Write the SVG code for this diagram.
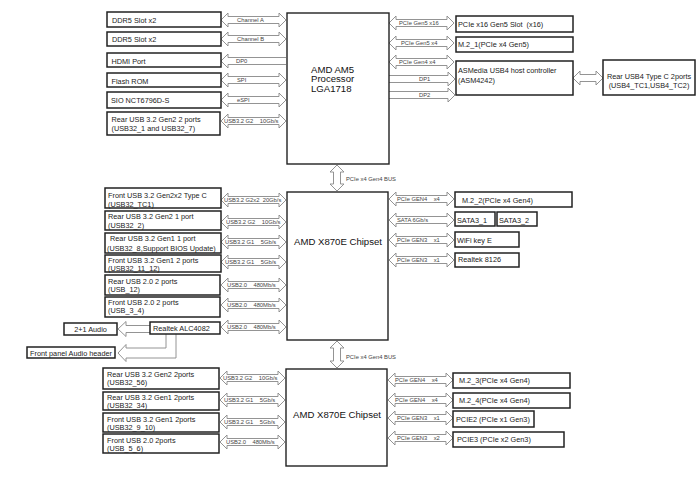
<svg xmlns="http://www.w3.org/2000/svg" width="700" height="502" viewBox="0 0 700 502">
<defs>
<style>
.box{fill:#fff;stroke:#222;stroke-width:1.5}
.big{fill:#fff;stroke:#222;stroke-width:1.4}
.arr{fill:#fff;stroke:#888;stroke-width:0.9}
.t{font-family:"Liberation Sans",Arial,sans-serif;font-size:7.3px;fill:#222;white-space:pre}
.c{font-family:"Liberation Sans",Arial,sans-serif;font-size:9.6px;fill:#111}
.l{font-family:"Liberation Sans",Arial,sans-serif;font-size:5.8px;fill:#444;white-space:pre}
</style>
<path id="da" d="M0,0 L7,-7 L7,-3.5 L58,-3.5 L58,-7 L65,0 L58,7 L58,3.5 L7,3.5 L7,7 Z"/>
</defs>
<rect width="700" height="502" fill="#fff"/>

<g id="connectors">
<use href="#da" class="arr" x="221" y="20"/>
<use href="#da" class="arr" x="221" y="39"/>
<path class="arr" d="M286,57.5 L228,57.5 L228,54 L221,61 L228,68 L228,64.5 L286,64.5"/>
<use href="#da" class="arr" x="221" y="80"/>
<use href="#da" class="arr" x="221" y="100"/>
<use href="#da" class="arr" x="221" y="121"/>
<use href="#da" class="arr" x="389" y="23"/>
<use href="#da" class="arr" x="389" y="43"/>
<use href="#da" class="arr" x="389" y="62"/>
<path class="arr" d="M389,75.5 L448,75.5 L448,72 L455,79 L448,86 L448,82.5 L389,82.5"/>
<path class="arr" d="M389,91.5 L448,91.5 L448,88 L455,95 L448,102 L448,98.5 L389,98.5"/>
<path class="arr" d="M573,78 L580,71 L580,74.5 L596,74.5 L596,71 L603,78 L596,85 L596,81.5 L580,81.5 L580,85 Z"/>
<path class="arr" d="M337,165 L344,172 L340.5,172 L340.5,184 L344,184 L337,191 L330,184 L333.5,184 L333.5,172 L330,172 Z"/>
<path class="arr" d="M337,341 L344,348 L340.5,348 L340.5,361 L344,361 L337,368 L330,361 L333.5,361 L333.5,348 L330,348 Z"/>
<use href="#da" class="arr" x="221" y="200"/>
<use href="#da" class="arr" x="221" y="222"/>
<use href="#da" class="arr" x="221" y="242"/>
<use href="#da" class="arr" x="221" y="262"/>
<use href="#da" class="arr" x="221" y="285"/>
<use href="#da" class="arr" x="221" y="305"/>
<use href="#da" class="arr" x="221" y="327"/>
<path class="arr" d="M150,325.5 L126,325.5 L126,321.5 L118,329 L126,336.5 L126,332.5 L150,332.5"/>
<path class="arr" d="M166,334 L166,348 L126,348 L126,344.5 L118,353 L126,361.5 L126,358 L176,358 L176,334"/>
<use href="#da" class="arr" x="389" y="199"/>
<use href="#da" class="arr" x="389" y="220"/>
<use href="#da" class="arr" x="389" y="240"/>
<use href="#da" class="arr" x="389" y="260"/>
<use href="#da" class="arr" x="220" y="378"/>
<use href="#da" class="arr" x="220" y="400"/>
<use href="#da" class="arr" x="220" y="422"/>
<use href="#da" class="arr" x="220" y="442"/>
<use href="#da" class="arr" x="388" y="380"/>
<use href="#da" class="arr" x="388" y="400"/>
<use href="#da" class="arr" x="388" y="418"/>
<use href="#da" class="arr" x="388" y="438"/>

<text class="l" x="237" y="22">Channel A</text>
<text class="l" x="237" y="41">Channel B</text>
<text class="l" x="236" y="63">DP0</text>
<text class="l" x="237" y="82">SPI</text>
<text class="l" x="237" y="102">eSPI</text>
<text class="l" x="224" y="123">USB3.2 G2    10Gb/s</text>
<text class="l" x="399" y="25">PCIe Gen5 x16</text>
<text class="l" x="401" y="45">PCIe Gen5 x4</text>
<text class="l" x="399" y="64">PCIe Gen4 x4</text>
<text class="l" x="419" y="81">DP1</text>
<text class="l" x="419" y="97">DP2</text>
<text class="l" x="346" y="181">PCIe x4 Gen4 BUS</text>
<text class="l" x="346" y="359">PCIe x4 Gen4 BUS</text>
<text class="l" x="224" y="202">USB3.2 G2x2  20Gb/s</text>
<text class="l" x="226" y="224">USB3.2 G2    10Gb/s</text>
<text class="l" x="225" y="244">USB3.2 G1    5Gb/s</text>
<text class="l" x="225" y="264">USB3.2 G1    5Gb/s</text>
<text class="l" x="227" y="287">USB2.0    480Mb/s</text>
<text class="l" x="227" y="307">USB2.0    480Mb/s</text>
<text class="l" x="227" y="329">USB2.0    480Mb/s</text>
<text class="l" x="397" y="201">PCIe GEN4    x4</text>
<text class="l" x="397" y="222">SATA 6Gb/s</text>
<text class="l" x="397" y="242">PCIe GEN3    x1</text>
<text class="l" x="397" y="262">PCIe GEN3    x1</text>
<text class="l" x="223" y="380">USB3.2 G2    10Gb/s</text>
<text class="l" x="224" y="402">USB3.2 G1    5Gb/s</text>
<text class="l" x="224" y="424">USB3.2 G1    5Gb/s</text>
<text class="l" x="226" y="444">USB2.0    480Mb/s</text>
<text class="l" x="395" y="382">PCIe GEN4    x4</text>
<text class="l" x="395" y="402">PCIe GEN4    x4</text>
<text class="l" x="397" y="420">PCIe GEN3    x1</text>
<text class="l" x="397" y="440">PCIe GEN3    x2</text>
</g>

<g id="cpu"><rect class="big" x="287" y="13" width="102" height="151"/>
<text class="c" x="311" y="72.5">AMD AM5</text><text class="c" x="311" y="82">Processor</text><text class="c" x="311" y="91.5">LGA1718</text></g>
<g id="chipset1"><rect class="big" x="287" y="192" width="101" height="148"/>
<text class="c" x="338" y="245" text-anchor="middle">AMD X870E Chipset</text></g>
<g id="chipset2"><rect class="big" x="286" y="369" width="101" height="97"/>
<text class="c" x="337" y="418" text-anchor="middle">AMD X870E Chipset</text></g>

<g id="ddr5a"><rect class="box" x="107" y="12" width="114" height="15"/><text class="t" x="112" y="22.5">DDR5 Slot x2</text></g>
<g id="ddr5b"><rect class="box" x="107" y="32" width="114" height="14"/><text class="t" x="112" y="42">DDR5 Slot x2</text></g>
<g id="hdmi"><rect class="box" x="107" y="53" width="114" height="14"/><text class="t" x="111.5" y="64">HDMI Port</text></g>
<g id="flash"><rect class="box" x="107" y="73" width="114" height="14"/><text class="t" x="111.5" y="83.5">Flash ROM</text></g>
<g id="sio"><rect class="box" x="107" y="92" width="114" height="16"/><text class="t" x="111" y="102.5">SIO NCT6796D-S</text></g>
<g id="rearusb1"><rect class="box" x="107" y="112" width="113" height="23"/><text class="t" x="111.5" y="121.5">Rear USB 3.2 Gen2 2 ports</text><text class="t" x="111.5" y="130.5">(USB32_1 and USB32_7)</text></g>

<g id="pcie16"><rect class="box" x="456" y="16" width="117" height="16"/><text class="t" x="458" y="26.5">PCIe x16 Gen5 Slot  (x16)</text></g>
<g id="m21"><rect class="box" x="456" y="37" width="117" height="15"/><text class="t" x="458" y="46.5">M.2_1(PCIe x4 Gen5)</text></g>
<g id="asmedia"><rect class="box" x="456" y="61" width="117" height="34"/><text class="t" x="458" y="73">ASMedia USB4 host controller</text><text class="t" x="458" y="82.5">(ASM4242)</text></g>
<g id="usb4"><rect class="box" x="603" y="60" width="92" height="35"/><text class="t" x="649" y="78.5" text-anchor="middle">Rear USB4 Type C 2ports</text><text class="t" x="649" y="87.5" text-anchor="middle">(USB4_TC1,USB4_TC2)</text></g>

<g id="fusbc"><rect class="box" x="105" y="188" width="116" height="20"/><text class="t" x="108" y="197.5">Front USB 3.2 Gen2x2 Type C</text><text class="t" x="108" y="206.5">(USB32_TC1)</text></g>
<g id="rusb2"><rect class="box" x="105" y="211" width="116" height="19"/><text class="t" x="108" y="219">Rear USB 3.2 Gen2 1 port</text><text class="t" x="108" y="227.5">(USB32_2)</text></g>
<g id="rusb8"><rect class="box" x="105" y="233" width="116" height="20"/><text class="t" x="110" y="240.5">Rear USB 3.2 Gen1 1 port</text><text class="t" x="107" y="250.5">(USB32_8,Support BIOS Update)</text></g>
<g id="fusb11"><rect class="box" x="105" y="255" width="116" height="17"/><text class="t" x="108" y="262.5">Front USB 3.2 Gen1 2 ports</text><text class="t" x="108" y="270.5">(USB32_11_12)</text></g>
<g id="rusb12"><rect class="box" x="105" y="275" width="115" height="20"/><text class="t" x="108" y="283.5">Rear USB 2.0 2 ports</text><text class="t" x="108" y="291.5">(USB_12)</text></g>
<g id="fusb34"><rect class="box" x="105" y="297" width="115" height="20"/><text class="t" x="108" y="304.5">Front USB 2.0 2 ports</text><text class="t" x="108" y="312.5">(USB_3_4)</text></g>
<g id="alc"><rect class="box" x="150" y="322" width="70" height="12"/><text class="t" x="153" y="330.5">Realtek ALC4082</text></g>
<g id="audio21"><rect class="box" x="64" y="323" width="53" height="12"/><text class="t" x="90.5" y="331.5" text-anchor="middle">2+1 Audio</text></g>
<g id="fpaudio"><rect class="box" x="27" y="347" width="88" height="11"/><text class="t" x="30" y="355.5">Front panel Audio header</text></g>

<g id="m22"><rect class="box" x="455" y="192" width="117" height="15"/><text class="t" x="462" y="202.5">M.2_2(PCIe x4 Gen4)</text></g>
<g id="sata1"><rect class="box" x="455" y="212" width="40" height="14"/><text class="t" x="457" y="223">SATA3_1</text></g>
<g id="sata2"><rect class="box" x="497" y="212" width="40" height="14"/><text class="t" x="499" y="223">SATA3_2</text></g>
<g id="wifi"><rect class="box" x="455" y="232" width="64" height="15"/><text class="t" x="457" y="242.5">WiFi key E</text></g>
<g id="rtl8126"><rect class="box" x="455" y="253" width="64" height="14"/><text class="t" x="458" y="261.5">Realtek 8126</text></g>

<g id="rusb56"><rect class="box" x="103" y="368" width="116" height="21"/><text class="t" x="107" y="376.5">Rear USB 3.2 Gen2 2ports</text><text class="t" x="107" y="385">(USB32_56)</text></g>
<g id="rusb34"><rect class="box" x="103" y="392" width="116" height="18"/><text class="t" x="107" y="399.5">Rear USB 3.2 Gen1 2ports</text><text class="t" x="107" y="407.5">(USB32_34)</text></g>
<g id="fusb910"><rect class="box" x="103" y="413" width="116" height="19"/><text class="t" x="107" y="421.5">Front USB 3.2 Gen1 2ports</text><text class="t" x="107" y="429.5">(USB32_9_10)</text></g>
<g id="fusb56"><rect class="box" x="103" y="434" width="116" height="19"/><text class="t" x="107" y="442.5">Front USB 2.0 2ports</text><text class="t" x="107" y="450.5">(USB_5_6)</text></g>

<g id="m23"><rect class="box" x="453" y="373" width="117" height="15"/><text class="t" x="459" y="383">M.2_3(PCIe x4 Gen4)</text></g>
<g id="m24"><rect class="box" x="453" y="393" width="117" height="15"/><text class="t" x="459" y="403">M.2_4(PCIe x4 Gen4)</text></g>
<g id="pcie2"><rect class="box" x="453" y="411" width="81" height="16"/><text class="t" x="456" y="421.5">PCIE2 (PCIe x1 Gen3)</text></g>
<g id="pcie3"><rect class="box" x="453" y="432" width="111" height="15"/><text class="t" x="457" y="441.5">PCIE3 (PCIe x2 Gen3)</text></g>
</svg>
